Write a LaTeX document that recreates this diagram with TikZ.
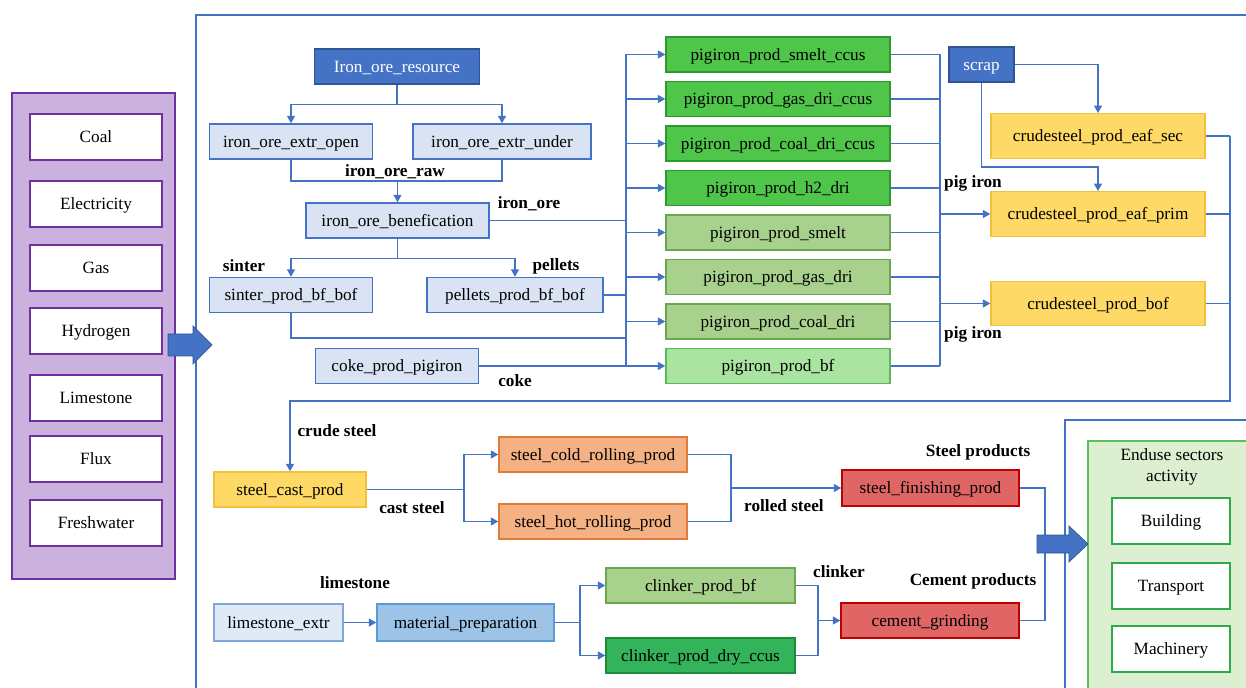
\documentclass[tikz,border=0pt]{standalone}
\usepackage{fontspec}
\setmainfont{Liberation Serif}
\usetikzlibrary{arrows.meta,positioning,calc}
\definecolor{flowblue}{HTML}{4472C4}
\definecolor{darkblue}{HTML}{2F5597}
\definecolor{oreblue}{HTML}{DAE3F3}
\definecolor{ccusgreen}{HTML}{4FC64A}
\definecolor{ccusedge}{HTML}{2E9A2E}
\definecolor{convgreen}{HTML}{A9D18E}
\definecolor{convedge}{HTML}{6AA84F}
\definecolor{bfgreen}{HTML}{A9E4A0}
\definecolor{bfedge}{HTML}{5CB85C}
\definecolor{steelgold}{HTML}{FFD966}
\definecolor{steeledge}{HTML}{F2C13A}
\definecolor{rollorange}{HTML}{F4B183}
\definecolor{rolledge}{HTML}{E07B39}
\definecolor{finred}{HTML}{E06666}
\definecolor{finedge}{HTML}{C00000}
\definecolor{clkgreen}{HTML}{33B35A}
\definecolor{clkedge}{HTML}{1F8A3A}
\definecolor{limeblue}{HTML}{DEEBF7}
\definecolor{limeedge}{HTML}{7FA7D9}
\definecolor{prepblue}{HTML}{9DC3E6}
\definecolor{prepedge}{HTML}{5B9BD5}
\definecolor{inpurple}{HTML}{CBB2DE}
\definecolor{inedge}{HTML}{7030A0}
\definecolor{endgreen}{HTML}{DCEFD0}
\definecolor{endedge}{HTML}{5CBF5C}
\definecolor{secedge}{HTML}{2EAA4A}

\begin{document}
\begin{tikzpicture}[
    x=0.02cm, y=-0.02cm,
    font=\fontsize{9.8}{12}\selectfont,
    box/.style={rectangle, line width=0.8pt, minimum height=0.7cm, inner sep=1pt, align=center, text height=1.8ex, text depth=0.35ex},
    ore/.style={box, draw=flowblue, fill=oreblue},
    source/.style={box, draw=darkblue, fill=flowblue, text=white},
    ccus/.style={box, draw=ccusedge, fill=ccusgreen, minimum width=4.48cm},
    conv/.style={box, draw=convedge, fill=convgreen, minimum width=4.48cm},
    bfbox/.style={box, draw=bfedge, fill=bfgreen, minimum width=4.48cm},
    crude/.style={box, draw=steeledge, fill=steelgold, minimum width=4.28cm, minimum height=0.89cm},
    rolling/.style={box, draw=rolledge, fill=rollorange, minimum width=3.76cm},
    final/.style={box, draw=finedge, fill=finred, minimum width=3.56cm},
    input/.style={box, draw=inedge, fill=white, minimum width=2.64cm, minimum height=0.92cm},
    sector/.style={box, draw=secedge, fill=white, minimum width=2.36cm, minimum height=0.92cm},
    flow/.style={font=\fontsize{9.8}{12}\selectfont\bfseries},
    line/.style={draw=flowblue, line width=0.8pt},
    arrow/.style={line, -{Triangle[length=1.5mm,width=1.6mm]}},
    frame/.style={draw=flowblue, line width=1.1pt},
    bigarrow/.style={fill=flowblue, draw=darkblue, line width=0.4pt},
]
\useasboundingbox (0,0) rectangle (1246,688);

% Frames
\draw[frame] (196,700) -- (196,15) -- (1260,15);
\draw[frame] (1065,700) -- (1065,420) -- (1260,420);

% Inputs
\draw[line width=1pt, draw=inedge, fill=inpurple] (12,93) rectangle (175,579);
\foreach \name/\y in {Coal/137, Electricity/204, Gas/268, Hydrogen/331, Limestone/398, Flux/459, Freshwater/523}
  \node[input] (\name) at (96,\y) {\name};
\filldraw[bigarrow] (168,334) -- (193,334) -- (193,326) -- (212,345) -- (193,364) -- (193,356) -- (168,356) -- cycle;

% Iron ore
\node[source, minimum width=3.3cm] (res) at (397,66.5) {Iron\_ore\_resource};
\node[ore, minimum width=3.26cm] (open) at (291,141.5) {iron\_ore\_extr\_open};
\node[ore, minimum width=3.56cm] (under) at (502,141.5) {iron\_ore\_extr\_under};
\node[ore, minimum width=3.66cm] (benef) at (397.5,220.5) {iron\_ore\_benefication};
\node[ore, minimum width=3.26cm] (sinter) at (291,295) {sinter\_prod\_bf\_bof};
\node[ore, minimum width=3.52cm] (pellets) at (515,295) {pellets\_prod\_bf\_bof};
\node[ore, minimum width=3.26cm] (coke) at (397,366) {coke\_prod\_pigiron};

% Pig iron
\node[ccus] (smeltccus) at (778,54.5) {pigiron\_prod\_smelt\_ccus};
\node[ccus, below=0.162cm of smeltccus] (gasccus) {pigiron\_prod\_gas\_dri\_ccus};
\node[ccus, below=0.162cm of gasccus] (coalccus) {pigiron\_prod\_coal\_dri\_ccus};
\node[ccus, below=0.162cm of coalccus] (htwo) {pigiron\_prod\_h2\_dri};
\node[conv, below=0.162cm of htwo] (smelt) {pigiron\_prod\_smelt};
\node[conv, below=0.162cm of smelt] (gasdri) {pigiron\_prod\_gas\_dri};
\node[conv, below=0.162cm of gasdri] (coaldri) {pigiron\_prod\_coal\_dri};
\node[bfbox, below=0.162cm of coaldri] (bf) {pigiron\_prod\_bf};

% Crude steel
\node[source, minimum width=1.3cm] (scrap) at (981.5,64.5) {scrap};
\node[crude] (eafsec) at (1098,136) {crudesteel\_prod\_eaf\_sec};
\node[crude] (eafprim) at (1098,214) {crudesteel\_prod\_eaf\_prim};
\node[crude] (bof) at (1098,303.5) {crudesteel\_prod\_bof};

% Steel products
\node[crude, minimum width=3.04cm, minimum height=0.7cm] (cast) at (290,489.5) {steel\_cast\_prod};
\node[rolling] (cold) at (593,454.5) {steel\_cold\_rolling\_prod};
\node[rolling] (hot) at (593,521.5) {steel\_hot\_rolling\_prod};
\node[final, minimum width=3.54cm, minimum height=0.72cm] (finish) at (930.5,488) {steel\_finishing\_prod};

% Cement
\node[box, draw=limeedge, fill=limeblue, minimum width=2.58cm, minimum height=0.74cm] (limex) at (278.5,622.5) {limestone\_extr};
\node[box, draw=prepedge, fill=prepblue, minimum width=3.54cm, minimum height=0.74cm] (matprep) at (465.5,622.5) {material\_preparation};
\node[box, draw=convedge, fill=convgreen, minimum width=3.78cm] (clkbf) at (700.5,585.5) {clinker\_prod\_bf};
\node[box, draw=clkedge, fill=clkgreen, minimum width=3.78cm] (clkccus) at (700.5,655.5) {clinker\_prod\_dry\_ccus};
\node[final] (cement) at (930,620.5) {cement\_grinding};

% End use
\draw[line width=1pt, draw=endedge, fill=endgreen] (1088,441) rectangle (1270,700);
\node[align=center] (enduse) at (1172,467) {Enduse sectors\\activity};
\node[sector] (building) at (1171,521) {Building};
\node[sector] (transport) at (1171,586) {Transport};
\node[sector] (machinery) at (1171,649) {Machinery};

% Arrows: iron ore
\draw[arrow] (res.south) -- ++(0,20) -| (open.north);
\draw[arrow] (res.south) -- ++(0,20) -| (under.north);
\coordinate (raw) at (397.5,181);
\draw[line] (open.south) |- (raw) -| (under.south);
\draw[arrow] (raw) -- (benef.north);
\draw[arrow] (benef.south) -- ++(0,20) -| (sinter.north);
\draw[arrow] (benef.south) -- ++(0,20) -| (pellets.north);

% Arrows: pig iron bus
\coordinate (busT) at (626,54.5);
\coordinate (sinjoin) at (626,338);
\draw[line] (busT) -- (busT |- bf.west);
\draw[line] (benef.east) -- (benef.east -| busT);
\draw[line] (pellets.east) -- (pellets.east -| busT);
\draw[line] (sinter.south) |- (sinjoin);
\foreach \n in {smeltccus,gasccus,coalccus,htwo,smelt,gasdri,coaldri}
  \draw[arrow] (\n.west -| busT) -- (\n.west);
\draw[arrow] (coke.east) -- (coke.east -| bf.west);

% Arrows: pig iron to crude steel
\coordinate (colT) at (940,54.5);
\draw[line] (colT) -- (colT |- bf.east);
\foreach \n in {smeltccus,gasccus,coalccus,htwo,smelt,gasdri,coaldri,bf}
  \draw[line] (\n.east) -- (\n.east -| colT);
\draw[arrow] (eafprim.west -| colT) -- (eafprim.west);
\draw[arrow] (bof.west -| colT) -- (bof.west);
\coordinate (scrapjoin) at (981.5,167);
\draw[arrow] (scrap.east) -| (eafsec.north);
\draw[arrow] (scrap.south) -- (scrapjoin) -| (eafprim.north);

% Arrows: crude steel loop
\coordinate (csR) at (1230,136);
\coordinate (csB) at (1230,401);
\draw[line] (eafsec.east) -- (csR);
\draw[line] (eafprim.east) -- (eafprim.east -| csR);
\draw[line] (bof.east) -- (bof.east -| csR);
\draw[arrow] (csR) -- (csB) -| (cast.north);

% Arrows: steel
\coordinate (castsplit) at (464,489.5);
\draw[line] (cast.east) -- (castsplit);
\draw[arrow] (castsplit) |- (cold.west);
\draw[arrow] (castsplit) |- (hot.west);
\coordinate (rollX) at (731,488);
\draw[line] (cold.east) -- (cold.east -| rollX) -- (hot.east -| rollX) -- (hot.east);
\draw[arrow] (rollX) -- (finish.west);

% Arrows: cement
\draw[arrow] (limex.east) -- (matprep.west);
\coordinate (prepsplit) at (580,622.5);
\draw[line] (matprep.east) -- (prepsplit);
\draw[arrow] (prepsplit) |- (clkbf.west);
\draw[arrow] (prepsplit) |- (clkccus.west);
\coordinate (clkX) at (818,620.5);
\draw[line] (clkbf.east) -- (clkbf.east -| clkX) -- (clkccus.east -| clkX) -- (clkccus.east);
\draw[arrow] (clkX) -- (cement.west);

% Products to end use
\coordinate (outX) at (1045,554);
\draw[line] (finish.east) -- (finish.east -| outX) -- (cement.east -| outX) -- (cement.east);
\filldraw[bigarrow] (1037,535) -- (1069,535) -- (1069,526) -- (1088,544) -- (1069,562) -- (1069,553) -- (1037,553) -- cycle;

% Labels
\node[flow] (lbraw) at (395,172) {iron\_ore\_raw};
\node[flow] (lbore) at (529,204) {iron\_ore};
\node[flow] (lbsinter) at (244,266) {sinter};
\node[flow] (lbpellets) at (556,266) {pellets};
\node[flow] (lbcoke) at (515,381) {coke};
\node[flow] (lbpig) at (973,183) {pig iron};
\node[flow] (lbpigb) at (973,334) {pig iron};
\node[flow] (lbcrude) at (337,431) {crude steel};
\node[flow] (lbcast) at (412,508) {cast steel};
\node[flow] (lbrolled) at (784,506) {rolled steel};
\node[flow] (lbsteel) at (978,452) {Steel products};
\node[flow] (lblime) at (355,583) {limestone};
\node[flow] (lbclk) at (839,572) {clinker};
\node[flow] (lbcement) at (973,581) {Cement products};
\end{tikzpicture}
\end{document}
